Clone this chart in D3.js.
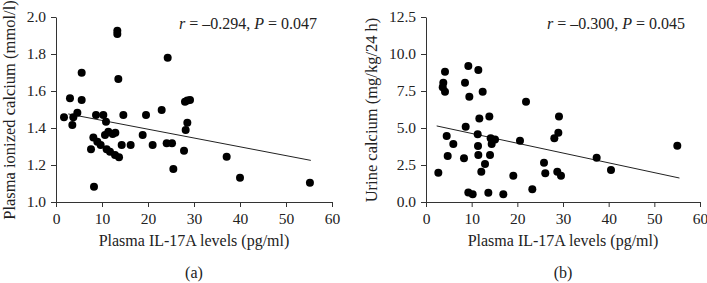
<!DOCTYPE html>
<html>
<head>
<meta charset="utf-8">
<script src="https://cdn.jsdelivr.net/npm/d3@7"></script>
<style>
  body { margin: 0; background: #fff; }
  text { font-family: "Liberation Serif", "Times New Roman", serif; fill: #222; }
</style>
</head>
<body>
<div id="chart"></div>
<script>
// panel (a): IL-17A vs plasma ionized calcium
const il17_a = [1.74, 3.04, 3.55, 3.77, 4.64, 5.58, 5.58, 7.61, 8.12, 8.26, 8.70, 8.99, 9.71, 10.29, 10.65,
  10.87, 11.01, 11.38, 11.74, 12.32, 12.9, 12.83, 13.33, 13.33, 13.55, 13.70, 14.28, 14.64, 16.23, 18.84,
  19.57, 21.01, 22.97, 24.06, 24.28, 25.22, 25.51, 27.83, 28.04, 28.19, 28.55, 28.55, 29.13, 37.1, 40.0, 55.2];
const calcium_a = [1.458, 1.561, 1.416, 1.458, 1.483, 1.699, 1.551, 1.285, 1.348, 1.083, 1.470, 1.326, 1.308, 1.470, 1.362,
  1.434, 1.285, 1.380, 1.272, 1.368, 1.375, 1.254, 1.926, 1.908, 1.665, 1.242, 1.308, 1.470, 1.308, 1.362,
  1.470, 1.308, 1.497, 1.317, 1.780, 1.317, 1.178, 1.277, 1.542, 1.389, 1.429, 1.548, 1.551, 1.245, 1.131, 1.104];
const fit_a = [[2.67, 1.476], [55.4, 1.225]];
const ticksY_a = [1.0, 1.2, 1.4, 1.6, 1.8, 2.0];

// panel (b): IL-17A vs urine calcium
const il17_b = [2.70, 4.53, 4.75, 5.98, 8.32, 8.69, 9.27, 10.22, 11.39, 11.46, 11.32, 11.68, 12.11, 12.92, 13.65,
  13.87, 14.02, 14.16, 14.38, 15.11, 16.93, 19.12, 20.58, 23.28, 25.84, 26.12, 28.10, 28.98, 29.12, 28.75,
  29.56, 37.37, 40.51, 55.03, 4.16, 3.79, 3.66, 4.16, 8.54, 9.27, 9.49, 11.46, 12.41, 21.9];
const calcium_b = [1.98, 4.46, 3.11, 3.92, 2.95, 5.09, 0.65, 0.52, 3.78, 3.18, 4.57, 5.65, 2.05, 2.57, 0.63,
  5.77, 3.18, 4.30, 3.92, 4.23, 0.52, 1.78, 4.14, 0.86, 2.66, 1.94, 4.30, 4.68, 5.77, 2.05,
  1.78, 2.99, 2.16, 3.80, 8.80, 8.06, 7.75, 7.45, 8.06, 9.19, 7.11, 8.92, 7.45, 6.78];
const fit_b = [[2.34, 5.14], [55.5, 1.62]];
const ticksY_b = [0, 2.5, 5.0, 7.5, 10.0, 12.5];

const ticksX = [0, 10, 20, 30, 40, 50, 60];

const svg = d3.select("#chart")
  .append("svg")
    .attr("width", 707)
    .attr("height", 283);

function panel(opts) {
  const x = d3.scaleLinear().domain([0, 60]).range([opts.left, opts.right]);
  const y = d3.scaleLinear().domain(opts.yDomain).range([202, 17]);

  // axes
  const gx = svg.append("g")
    .attr("transform", "translate(0,202)")
    .call(d3.axisBottom(x).tickValues(ticksX).tickSize(5).tickSizeOuter(0).tickPadding(6));
  const gy = svg.append("g")
    .attr("transform", `translate(${opts.left},0)`)
    .call(d3.axisLeft(y).tickValues(opts.yTicks).tickFormat(d3.format(".1f")).tickSize(5).tickSizeOuter(0).tickPadding(5));
  [gx, gy].forEach(g => {
    g.selectAll("path, line").attr("stroke", "#333");
    g.selectAll("text").style("font-size", "15.5px").attr("fill", "#222");
  });
  gx.select(".domain").attr("d", `M${opts.left},0.5H${x(60)}`);

  // regression line
  svg.append("path")
    .datum(opts.fit)
    .attr("fill", "none")
    .attr("stroke", "#222")
    .attr("stroke-width", 1)
    .attr("d", d3.line().x(d => x(d[0])).y(d => y(d[1])));

  // dots
  svg.append("g")
    .selectAll("circle")
    .data(opts.xs.map((v, i) => [v, opts.ys[i]]))
    .enter()
    .append("circle")
      .attr("cx", d => x(d[0]))
      .attr("cy", d => y(d[1]))
      .attr("r", 4)
      .style("fill", "#000");

  // annotation
  const ann = svg.append("text")
    .attr("x", opts.annX)
    .attr("y", 29)
    .attr("text-anchor", "end")
    .style("font-size", "16px");
  ann.append("tspan").style("font-style", "italic").text("r");
  ann.append("tspan").text(` = –${opts.r}, `);
  ann.append("tspan").style("font-style", "italic").text("P");
  ann.append("tspan").text(` = ${opts.p}`);

  // axis titles
  svg.append("text")
    .attr("x", (opts.left + opts.right) / 2)
    .attr("y", 246)
    .attr("text-anchor", "middle")
    .style("font-size", "16px")
    .text("Plasma IL-17A levels (pg/ml)");
  svg.append("text")
    .attr("transform", `translate(${opts.yTitleX},${110}) rotate(-90)`)
    .attr("text-anchor", "middle")
    .style("font-size", "16.5px")
    .text(opts.yTitle);
  svg.append("text")
    .attr("x", (opts.left + opts.right) / 2)
    .attr("y", 278)
    .attr("text-anchor", "middle")
    .style("font-size", "16px")
    .text(opts.label);
}

panel({left: 56, right: 332, yDomain: [1, 2], yTicks: ticksY_a, xs: il17_a, ys: calcium_a, fit: fit_a,
  annX: 317, r: "0.294", p: "0.047", yTitleX: 14.5, yTitle: "Plasma ionized calcium (mmol/l)", label: "(a)"});
panel({left: 426, right: 700, yDomain: [0, 12.5], yTicks: ticksY_b, xs: il17_b, ys: calcium_b, fit: fit_b,
  annX: 685, r: "0.300", p: "0.045", yTitleX: 377, yTitle: "Urine calcium (mg/kg/24 h)", label: "(b)"});
</script>
</body>
</html>
